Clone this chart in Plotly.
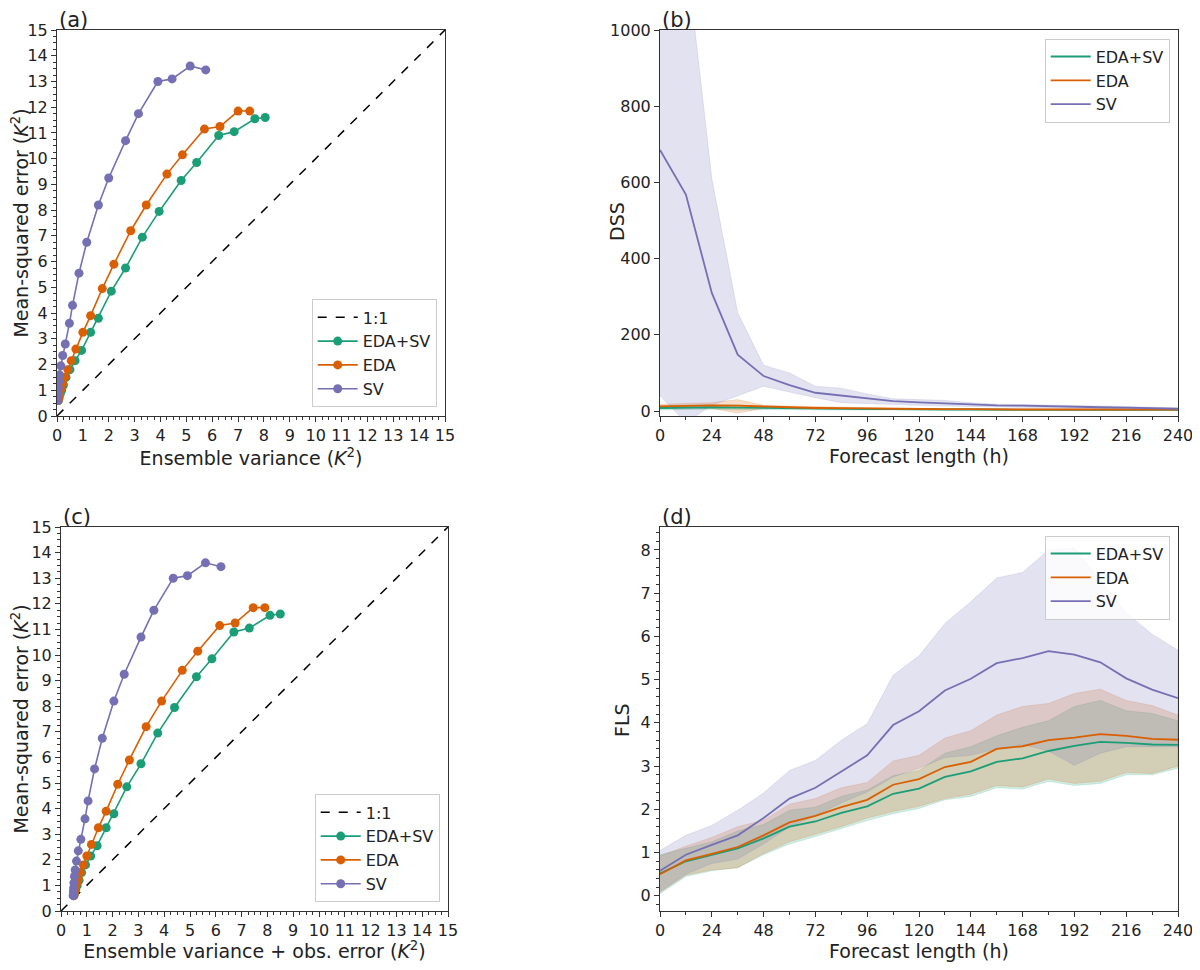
import plotly.graph_objects as go

# colours (Dark2)
C_BOTH = '#1b9e77'
C_EDA = '#d95f02'
C_SV = '#7570b3'

# ---- panels (a)/(c): MSE vs ensemble variance, one point per forecast step ----
var_both = [0.05, 0.08, 0.12, 0.18, 0.25, 0.35, 0.5, 0.7, 0.95, 1.3, 1.6, 2.1, 2.65, 3.3, 3.95,
            4.8, 5.4, 6.25, 6.85, 7.65, 8.05]
mse_both = [0.6, 0.7, 0.85, 1.0, 1.2, 1.5, 1.8, 2.15, 2.55, 3.25, 3.8, 4.85, 5.75, 6.95, 7.95,
            9.15, 9.85, 10.9, 11.05, 11.55, 11.6]
var_eda = [0.05, 0.07, 0.1, 0.15, 0.22, 0.3, 0.42, 0.55, 0.73, 1.0, 1.3, 1.75, 2.2, 2.85, 3.45,
           4.25, 4.85, 5.7, 6.3, 7.0, 7.45]
mse_eda = [0.6, 0.7, 0.85, 1.05, 1.25, 1.5, 1.8, 2.15, 2.6, 3.25, 3.9, 4.95, 5.9, 7.2, 8.2,
           9.4, 10.15, 11.15, 11.25, 11.85, 11.85]
var_sv = [0.02, 0.03, 0.04, 0.05, 0.07, 0.1, 0.15, 0.22, 0.32, 0.48, 0.6, 0.85, 1.15, 1.6, 2.0,
          2.65, 3.15, 3.9, 4.45, 5.15, 5.75]
mse_sv = [0.6, 0.75, 0.9, 1.1, 1.35, 1.6, 1.95, 2.35, 2.8, 3.6, 4.3, 5.55, 6.75, 8.2, 9.25,
          10.7, 11.75, 13.0, 13.1, 13.6, 13.45]
obs_err = 0.45

# ---- panels (b)/(d): scores vs forecast length ----
lead = [0, 12, 24, 36, 48, 60, 72, 84, 96, 108, 120, 132, 144, 156, 168, 180, 192, 204, 216, 228, 240]

dss_both = [8, 9, 10, 9, 8, 7, 6, 6, 5, 5, 4, 4, 4, 3, 3, 3, 3, 3, 3, 3, 3]
dss_both_lo = [3, 4, 5, 3, 4, 4, 3, 3, 3, 3, 2, 2, 2, 2, 2, 2, 2, 2, 2, 2, 2]
dss_both_hi = [14, 15, 16, 16, 12, 10, 9, 8, 7, 7, 6, 6, 6, 5, 5, 5, 5, 5, 5, 5, 4]
dss_eda = [12, 14, 15, 14, 11, 10, 8, 8, 7, 6, 5, 5, 5, 4, 4, 4, 4, 4, 4, 4, 4]
dss_eda_lo = [6, 8, 7, -5, 7, 7, 6, 6, 5, 4, 4, 3, 3, 3, 3, 3, 3, 3, 3, 3, 3]
dss_eda_hi = [18, 20, 22, 30, 15, 13, 11, 10, 9, 8, 7, 7, 6, 6, 6, 6, 5, 5, 5, 5, 5]
dss_sv = [685, 568, 310, 148, 92, 68, 48, 40, 33, 26, 23, 20, 17, 15, 14, 12, 11, 10, 9, 7, 6]
dss_sv_lo = [40, -30, 15, 40, 65, 50, 35, 22, 20, 18, 15, 13, 11, 10, 9, 8, 7, 6, 6, 5, 4]
dss_sv_hi = [1300, 1210, 610, 258, 120, 100, 65, 60, 45, 32, 30, 28, 22, 18, 17, 16, 15, 13, 12, 10, 8]

fls_both = [0.52, 0.8, 0.95, 1.1, 1.33, 1.6, 1.72, 1.92, 2.07, 2.36, 2.48, 2.75, 2.88, 3.1, 3.18,
            3.35, 3.47, 3.56, 3.54, 3.5, 3.49]
fls_both_lo = [0.05, 0.45, 0.58, 0.65, 0.95, 1.2, 1.37, 1.55, 1.74, 1.9, 2.02, 2.22, 2.3, 2.5, 2.47,
               2.65, 2.55, 2.6, 2.8, 2.8, 2.95]
fls_both_hi = [0.95, 1.1, 1.25, 1.5, 1.65, 1.98, 2.05, 2.3, 2.45, 2.78, 2.9, 3.3, 3.45, 3.7, 3.9,
               4.05, 4.38, 4.52, 4.28, 4.22, 4.05]
fls_eda = [0.5, 0.82, 0.97, 1.13, 1.4, 1.7, 1.85, 2.05, 2.22, 2.57, 2.7, 2.98, 3.1, 3.4, 3.46,
           3.6, 3.66, 3.74, 3.7, 3.63, 3.61]
fls_eda_lo = [0.08, 0.48, 0.6, 0.65, 0.98, 1.25, 1.42, 1.6, 1.8, 1.95, 2.07, 2.25, 2.35, 2.55, 2.52,
              2.7, 2.6, 2.65, 2.85, 2.83, 3.0]
fls_eda_hi = [0.92, 1.15, 1.35, 1.6, 1.75, 2.12, 2.25, 2.5, 2.62, 3.12, 3.25, 3.65, 3.82, 4.18, 4.38,
              4.45, 4.68, 4.78, 4.52, 4.4, 4.18]
fls_sv = [0.58, 0.95, 1.18, 1.4, 1.8, 2.25, 2.5, 2.88, 3.25, 3.95, 4.27, 4.75, 5.02, 5.38, 5.5,
          5.66, 5.58, 5.4, 5.03, 4.77, 4.57]
fls_sv_lo = [0.1, 0.5, 0.75, 0.85, 1.2, 1.6, 1.85, 2.15, 2.4, 2.75, 2.95, 3.2, 3.25, 3.4, 3.5,
             3.35, 3.02, 3.3, 3.45, 3.45, 3.45]
fls_sv_hi = [1.05, 1.4, 1.63, 1.98, 2.38, 2.9, 3.13, 3.6, 3.98, 5.1, 5.55, 6.3, 6.8, 7.35, 7.48,
             8.0, 8.05, 7.3, 6.55, 6.05, 5.68]

FONT = 'DejaVu Sans'

# page body has an 8px margin, so the figure is a bit smaller than the window
W, H, OFF = 1184, 954, 8


def px_x(a, b):
    return [(a - OFF) / W, (b - OFF) / W]


def px_y(top, bottom):
    return [1 - (bottom - OFF) / H, 1 - (top - OFF) / H]


def rgba(hex_col, a):
    h = hex_col.lstrip('#')
    return 'rgba(%d,%d,%d,%s)' % (int(h[0:2], 16), int(h[2:4], 16), int(h[4:6], 16), a)


fig = go.Figure()

# scatter panels
for ax, lg, shift in [('', 'legend', 0.0), ('3', 'legend3', obs_err)]:
    fig.add_trace(go.Scatter(x=[0, 15], y=[0, 15], mode='lines', name='1:1',
                             line=dict(color='black', dash='dash', width=1.5),
                             xaxis='x' + ax, yaxis='y' + ax, legend=lg))
    for name, xs, ys, col in [('EDA+SV', var_both, mse_both, C_BOTH),
                              ('EDA', var_eda, mse_eda, C_EDA),
                              ('SV', var_sv, mse_sv, C_SV)]:
        fig.add_trace(go.Scatter(x=[v + shift for v in xs], y=ys, mode='lines+markers', name=name,
                                 line=dict(color=col, width=1.6), marker=dict(color=col, size=9),
                                 xaxis='x' + ax, yaxis='y' + ax, legend=lg))

# line + band panels
for ax, lg, series in [('2', 'legend2', [('EDA+SV', dss_both, dss_both_lo, dss_both_hi, C_BOTH),
                                        ('EDA', dss_eda, dss_eda_lo, dss_eda_hi, C_EDA),
                                        ('SV', dss_sv, dss_sv_lo, dss_sv_hi, C_SV)]),
                       ('4', 'legend4', [('EDA+SV', fls_both, fls_both_lo, fls_both_hi, C_BOTH),
                                        ('EDA', fls_eda, fls_eda_lo, fls_eda_hi, C_EDA),
                                        ('SV', fls_sv, fls_sv_lo, fls_sv_hi, C_SV)])]:
    for name, mid, lo, hi, col in series:
        fig.add_trace(go.Scatter(x=lead + lead[::-1], y=hi + lo[::-1], fill='toself',
                                 fillcolor=rgba(col, 0.2), line=dict(width=0.8, color=rgba(col, 0.2)),
                                 hoverinfo='skip', showlegend=False, xaxis='x' + ax, yaxis='y' + ax))
    for name, mid, lo, hi, col in series:
        fig.add_trace(go.Scatter(x=lead, y=mid, mode='lines', name=name,
                                 line=dict(color=col, width=1.8),
                                 xaxis='x' + ax, yaxis='y' + ax, legend=lg))

axis_common = dict(showline=True, linecolor='#333', linewidth=1, mirror=True, ticks='outside',
                   ticklen=5, tickcolor='#333', showgrid=False, zeroline=False, automargin=False,
                   ticklabeloverflow='allow',
                   tickfont=dict(size=16, color='#222'), title_font=dict(size=19, color='#222'))

xa = px_x(57, 445)
xc = px_x(61, 448)
xr = px_x(660, 1178)
ytop = px_y(30, 416)
ybot = px_y(527, 911)

sq_ticks = dict(tickmode='linear', tick0=0, dtick=1, range=[0, 15],
                minor=dict(ticks='outside', ticklen=3, dtick=0.25, tickcolor='#333'))
lead_ticks = dict(tickmode='linear', tick0=0, dtick=24, range=[0, 240],
                  minor=dict(ticks='outside', ticklen=3, dtick=12, tickcolor='#333'))

fig.update_layout(
    width=W, height=H, margin=dict(l=0, r=0, t=0, b=0),
    plot_bgcolor='white', paper_bgcolor='white',
    font=dict(family=FONT, color='#222'),
    xaxis=dict(axis_common, domain=xa, anchor='y', title=dict(text='Ensemble variance (<i>K</i><sup>2</sup>)', standoff=2), **sq_ticks),
    yaxis=dict(axis_common, domain=ytop, anchor='x', title=dict(text='Mean-squared error (<i>K</i><sup>2</sup>)', standoff=5), **sq_ticks),
    xaxis2=dict(axis_common, domain=xr, anchor='y2', title=dict(text='Forecast length (h)', standoff=2), **lead_ticks),
    yaxis2=dict(axis_common, domain=ytop, anchor='x2', range=[-13, 1000], tickmode='linear', tick0=0, dtick=200),
    xaxis3=dict(axis_common, domain=xc, anchor='y3', title=dict(text='Ensemble variance + obs. error (<i>K</i><sup>2</sup>)', standoff=4), **sq_ticks),
    yaxis3=dict(axis_common, domain=ybot, anchor='x3', title=dict(text='Mean-squared error (<i>K</i><sup>2</sup>)', standoff=5), **sq_ticks),
    xaxis4=dict(axis_common, domain=xr, anchor='y4', title=dict(text='Forecast length (h)', standoff=3), **lead_ticks),
    yaxis4=dict(axis_common, domain=ybot, anchor='x4', range=[-0.35, 8.53], tickmode='linear', tick0=0, dtick=1,
                minor=dict(ticks='outside', ticklen=3, dtick=0.2, tickcolor='#333')),
)

leg_common = dict(bgcolor='rgba(255,255,255,0.8)', bordercolor='#ccc', borderwidth=1,
                  font=dict(size=16, color='#222'), tracegroupgap=0, itemwidth=40)
fig.update_layout(
    legend=dict(leg_common, x=xa[1] - 0.007, y=ytop[0] + 0.009, xanchor='right', yanchor='bottom'),
    legend2=dict(leg_common, x=xr[1] - 0.007, y=ytop[1] - 0.009, xanchor='right', yanchor='top'),
    legend3=dict(leg_common, x=xc[1] - 0.007, y=ybot[0] + 0.009, xanchor='right', yanchor='bottom'),
    legend4=dict(leg_common, x=xr[1] - 0.007, y=ybot[1] - 0.009, xanchor='right', yanchor='top'),
)

# panel letters
for txt, x, y in [('(a)', xa[0], ytop[1]), ('(b)', xr[0], ytop[1]),
                  ('(c)', xc[0], ybot[1]), ('(d)', xr[0], ybot[1])]:
    fig.add_annotation(text=txt, x=x, y=y, xref='paper', yref='paper', xanchor='left', yanchor='bottom',
                       showarrow=False, font=dict(size=21, family=FONT, color='#222'), yshift=-4)

# y titles of the right-hand panels, placed like the original
for txt, cx, cy in [('DSS', 617, 222), ('FLS', 622, 720)]:
    fig.add_annotation(text=txt, x=(cx - OFF) / W, y=1 - (cy - OFF) / H, xref='paper', yref='paper',
                       xanchor='center', yanchor='middle', textangle=-90, showarrow=False,
                       font=dict(size=19, family=FONT, color='#222'))

fig.write_html("out.html")
